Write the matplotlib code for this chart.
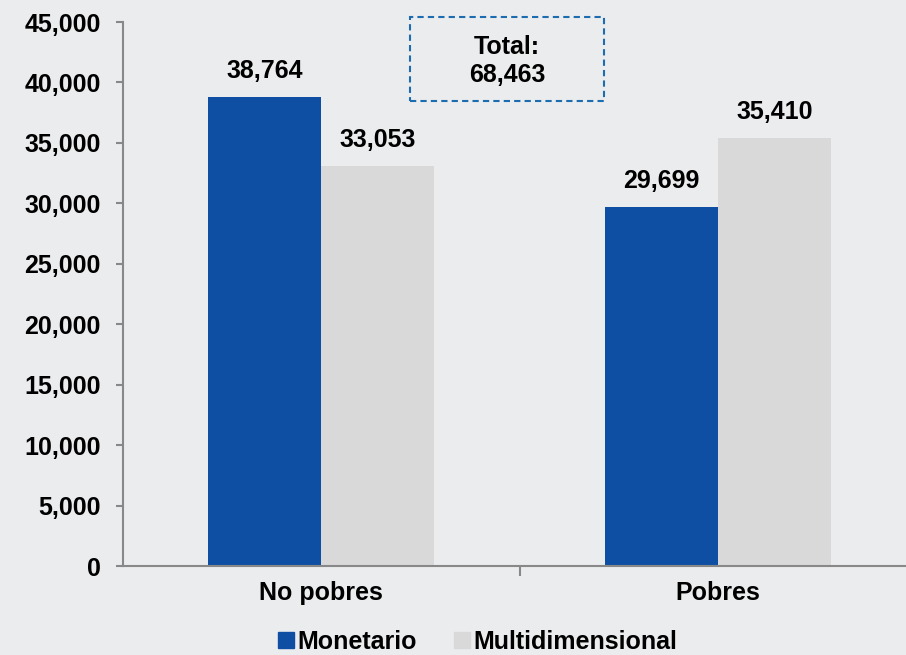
import matplotlib
matplotlib.use("Agg")
import matplotlib.pyplot as plt
from matplotlib.patches import Rectangle
from matplotlib.lines import Line2D
import numpy as np

categories = ["No pobres", "Pobres"]
series_names = ["Monetario", "Multidimensional"]
monetario = [38764, 29699]
multidimensional = [33053, 35410]
total_text = "Total:\n68,463"
yticks = [0, 5000, 10000, 15000, 20000, 25000, 30000, 35000, 40000, 45000]

plt.rcParams['font.family'] = ['Liberation Sans', 'DejaVu Sans']
plt.rcParams['font.weight'] = 'bold'

BG = "#EBECEE"
BLUE = "#0E4FA3"
GRAY = "#D9D9D9"
FS = 18

fig = plt.figure(figsize=(9.06, 6.55), dpi=100, facecolor=BG)
ax = fig.add_axes([123/906, 1-566/655, (916.5-123)/906, (566-22)/655])
ax.set_facecolor(BG)

x = np.arange(len(categories))
w = 0.285
b1 = ax.bar(x - w/2, monetario, w, color=BLUE, label=series_names[0], zorder=2)
b2 = ax.bar(x + w/2, multidimensional, w, color=GRAY, label=series_names[1], zorder=2)

for bars, vals in ((b1, monetario), (b2, multidimensional)):
    for r, v in zip(bars, vals):
        ax.annotate(f"{v:,}", (r.get_x() + r.get_width()/2, v),
                    xytext=(0, 19), textcoords="offset points",
                    ha="center", va="center", fontsize=FS, fontweight="bold")

ax.set_xlim(-0.5, 1.5)
ax.set_ylim(0, 45000)
ax.set_yticks(yticks)
ax.set_yticklabels([f"{v:,}" for v in yticks])
ax.tick_params(axis='y', direction='out', length=5, width=1.5, color="#888888",
               labelsize=FS, pad=11)
ax.set_xticks(x)
ax.set_xticklabels(categories)
ax.set_xticks([0.5], minor=True)
ax.tick_params(axis='x', which='major', length=0, labelsize=FS, pad=11)
ax.tick_params(axis='x', which='minor', direction='out', length=7, width=1.5, color="#888888")
for lab in ax.get_xticklabels() + ax.get_yticklabels():
    lab.set_fontweight("bold")

for s in ["top", "right"]:
    ax.spines[s].set_visible(False)
for s in ["left", "bottom"]:
    ax.spines[s].set_color("#888888")
    ax.spines[s].set_linewidth(1.5)

# Total box
rect = Rectangle((410/906, 1-101/655), (604-410)/906, (101-17)/655,
                 transform=fig.transFigure, fill=False, edgecolor="#1C6CB0",
                 linestyle=(0, (3, 2)), linewidth=1.5)
fig.patches.append(rect)
fig.text(507/906, 1-61/655, total_text, ha="center", va="center",
         fontsize=FS, fontweight="bold", linespacing=1.25)

handles = [Line2D([], [], marker='s', linestyle='none', markersize=11,
                  markerfacecolor=BLUE, markeredgecolor=BLUE),
           Line2D([], [], marker='s', linestyle='none', markersize=11,
                  markerfacecolor=GRAY, markeredgecolor=GRAY)]
fig.legend(handles, series_names, loc="center", bbox_to_anchor=(478/906, 1-642/655),
           ncol=2, frameon=False, prop={'size': FS, 'weight': 'bold'},
           handlelength=0.6, handletextpad=0.15, columnspacing=1.5, borderpad=0)

fig.savefig("out.png", dpi=100, facecolor=BG)
